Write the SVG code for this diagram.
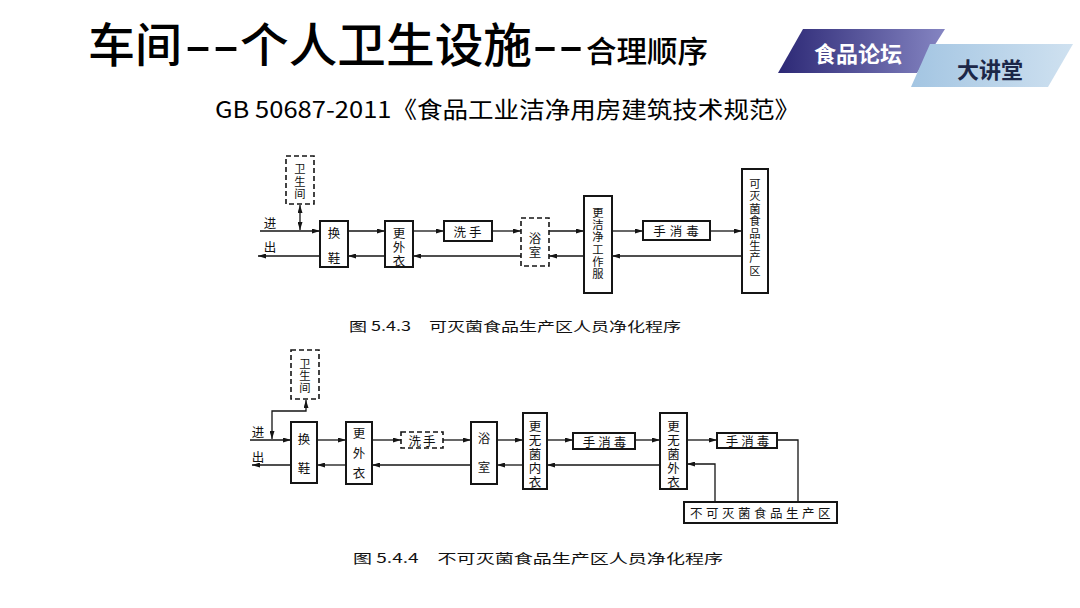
<svg xmlns="http://www.w3.org/2000/svg" width="1080" height="608" viewBox="0 0 1080 608">
<defs>
<linearGradient id="gDark" x1="0" y1="0" x2="1" y2="0">
<stop offset="0" stop-color="#2c2875"/>
<stop offset="1" stop-color="#8585c2"/>
</linearGradient>
<linearGradient id="gLight" x1="0" y1="0" x2="1" y2="0">
<stop offset="0" stop-color="#a3c5e2"/>
<stop offset="1" stop-color="#cfe1f0"/>
</linearGradient>
<marker id="ah" viewBox="0 0 8 5" refX="8" refY="2.5" markerWidth="8" markerHeight="5" markerUnits="userSpaceOnUse" orient="auto-start-reverse">
<path d="M0,0 L8,2.5 L0,5 z" fill="#151515"/>
</marker>
<style>
.box{fill:#fff;stroke:#151515;stroke-width:2}
.dbox{fill:#fff;stroke:#151515;stroke-width:1.6;stroke-dasharray:5 3}
.ln{fill:none;stroke:#151515;stroke-width:1.3}
.ar{marker-end:url(#ah)}
.ar2{marker-start:url(#ah);marker-end:url(#ah)}
.t{font-family:"Noto Sans CJK SC","Noto Sans",sans-serif;font-size:12.5px;fill:#111;text-anchor:middle;dominant-baseline:central}
.s{font-size:11.3px}
.cap{font-family:"Noto Sans CJK SC","Noto Sans",sans-serif;font-size:13px;fill:#111;dominant-baseline:central}
.title{font-family:"Noto Sans CJK SC","Noto Sans",sans-serif;fill:#000;font-weight:500}
.sub{font-family:"Noto Sans CJK SC","Noto Sans",sans-serif;fill:#000;font-weight:400}
</style>
</defs>
<rect width="1080" height="608" fill="#fff"/>

<g id="header">
<text class="title" x="88" y="62" font-size="47">车间</text>
<text class="title" x="184" y="62" font-size="47" textLength="56" lengthAdjust="spacingAndGlyphs">--</text>
<text class="title" x="240" y="62" font-size="47" textLength="292" lengthAdjust="spacingAndGlyphs">个人卫生设施</text>
<text class="title" x="532" y="62" font-size="47" textLength="52" lengthAdjust="spacingAndGlyphs">--</text>
<text class="title" x="586" y="62" font-size="30" textLength="122" lengthAdjust="spacingAndGlyphs">合理顺序</text>
<text class="sub" x="215" y="118" font-size="23" textLength="585" lengthAdjust="spacingAndGlyphs">GB 50687-2011《食品工业洁净用房建筑技术规范》</text>
</g>

<g id="badge">
<polygon points="803,29 945,29 917,73 778,73" fill="url(#gDark)"/>
<polygon points="930,44 1073,44 1048,87 911,87" fill="url(#gLight)"/>
<text x="858" y="52" font-family="'Noto Sans CJK SC',sans-serif" font-size="22" font-weight="700" fill="#fff" text-anchor="middle" dominant-baseline="central">食品论坛</text>
<text x="990" y="68" font-family="'Noto Sans CJK SC',sans-serif" font-size="22" font-weight="700" fill="#1c2748" text-anchor="middle" dominant-baseline="central">大讲堂</text>
</g>

<!-- Diagram 5.4.3 -->
<g id="d1-connectors">
<path class="ln ar" d="M260,231 H320"/>
<path class="ln ar" d="M348,231 H385"/>
<path class="ln ar" d="M413,231 H444"/>
<path class="ln ar" d="M492,231 H521"/>
<path class="ln ar" d="M549,231 H584"/>
<path class="ln ar" d="M612,231 H643"/>
<path class="ln ar" d="M710,231 H742"/>
<path class="ln ar" d="M742,256 H612"/>
<path class="ln ar" d="M584,256 H549"/>
<path class="ln ar" d="M521,256 H413"/>
<path class="ln ar" d="M385,256 H348"/>
<path class="ln ar" d="M320,256 H258"/>
<path class="ln ar2" d="M300,205 V230"/>
</g>
<text class="t" x="270" y="222" font-size="13">进</text>
<text class="t" x="270" y="246" font-size="13">出</text>
<g id="d1-wc">
<rect class="dbox" x="286" y="156" width="28" height="48"/>
<text class="t s" x="300" y="168">卫</text><text class="t s" x="300" y="180.5">生</text><text class="t s" x="300" y="193">间</text>
</g>
<g id="d1-shoe">
<rect class="box" x="320" y="221" width="28" height="46"/>
<text class="t" x="334" y="232">换</text><text class="t" x="334" y="257">鞋</text>
</g>
<g id="d1-coat">
<rect class="box" x="385" y="221" width="28" height="46"/>
<text class="t" x="399" y="232">更</text><text class="t" x="399" y="246">外</text><text class="t" x="399" y="260">衣</text>
</g>
<g id="d1-wash">
<rect class="box" x="444" y="221" width="48" height="20"/>
<text class="t" x="469" y="231" letter-spacing="3">洗手</text>
</g>
<g id="d1-bath">
<rect class="dbox" x="521" y="218" width="28" height="48"/>
<text class="t" x="535" y="237">浴</text><text class="t" x="535" y="251">室</text>
</g>
<g id="d1-clean">
<rect class="box" x="584" y="196" width="28" height="97"/>
<text class="t s" x="598" y="212">更</text><text class="t s" x="598" y="224.2">洁</text><text class="t s" x="598" y="236.4">净</text><text class="t s" x="598" y="248.6">工</text><text class="t s" x="598" y="260.8">作</text><text class="t s" x="598" y="273">服</text>
</g>
<g id="d1-dis">
<rect class="box" x="643" y="221" width="67" height="19"/>
<text class="t" x="678" y="230.5" letter-spacing="4">手消毒</text>
</g>
<g id="d1-zone">
<rect class="box" x="742" y="169" width="26" height="124"/>
<text class="t s" x="755" y="183">可</text><text class="t s" x="755" y="195.4">灭</text><text class="t s" x="755" y="207.8">菌</text><text class="t s" x="755" y="220.2">食</text><text class="t s" x="755" y="232.6">品</text><text class="t s" x="755" y="245">生</text><text class="t s" x="755" y="257.4">产</text><text class="t s" x="755" y="270">区</text>
</g>
<text class="cap" x="349" y="325" textLength="332" lengthAdjust="spacingAndGlyphs">图 5.4.3　可灭菌食品生产区人员净化程序</text>

<!-- Diagram 5.4.4 -->
<g id="d2-connectors">
<path class="ln ar" d="M250,440 H291"/>
<path class="ln ar" d="M317,440 H346"/>
<path class="ln ar" d="M372,440 H401"/>
<path class="ln ar" d="M443,440 H471"/>
<path class="ln ar" d="M497,440 H523"/>
<path class="ln ar" d="M547,440 H573"/>
<path class="ln ar" d="M635,440 H660"/>
<path class="ln ar" d="M687,440 H717"/>
<path class="ln" d="M777,440 H798 V502"/>
<path class="ln ar" d="M715,502 V464 H687"/>
<path class="ln ar" d="M660,465 H547"/>
<path class="ln ar" d="M523,465 H497"/>
<path class="ln ar" d="M471,465 H372"/>
<path class="ln ar" d="M346,465 H317"/>
<path class="ln ar" d="M291,465 H252"/>
<path class="ln ar2" d="M272,439 V411 H306 V400"/>
</g>
<text class="t" x="258" y="431" font-size="13">进</text>
<text class="t" x="258" y="456" font-size="13">出</text>
<g id="d2-wc">
<rect class="dbox" x="291" y="350" width="28" height="49"/>
<text class="t s" x="305" y="363">卫</text><text class="t s" x="305" y="375">生</text><text class="t s" x="305" y="387">间</text>
</g>
<g id="d2-shoe">
<rect class="box" x="291" y="422" width="26" height="61"/>
<text class="t" x="304" y="438">换</text><text class="t" x="304" y="467">鞋</text>
</g>
<g id="d2-coat">
<rect class="box" x="346" y="422" width="26" height="62"/>
<text class="t" x="359" y="432">更</text><text class="t" x="359" y="452">外</text><text class="t" x="359" y="472">衣</text>
</g>
<g id="d2-wash">
<rect class="dbox" x="401" y="432" width="42" height="16"/>
<text class="t" x="423" y="440" letter-spacing="2">洗手</text>
</g>
<g id="d2-bath">
<rect class="box" x="471" y="422" width="26" height="62"/>
<text class="t" x="484" y="437">浴</text><text class="t" x="484" y="466">室</text>
</g>
<g id="d2-inner">
<rect class="box" x="523" y="413" width="24" height="76"/>
<text class="t" x="535" y="425">更</text><text class="t" x="535" y="439">无</text><text class="t" x="535" y="453">菌</text><text class="t" x="535" y="467">内</text><text class="t" x="535" y="481">衣</text>
</g>
<g id="d2-dis1">
<rect class="box" x="573" y="433" width="62" height="16"/>
<text class="t" x="606" y="441" letter-spacing="3">手消毒</text>
</g>
<g id="d2-outer">
<rect class="box" x="660" y="413" width="27" height="76"/>
<text class="t" x="673.5" y="425">更</text><text class="t" x="673.5" y="439">无</text><text class="t" x="673.5" y="453">菌</text><text class="t" x="673.5" y="467">外</text><text class="t" x="673.5" y="481">衣</text>
</g>
<g id="d2-dis2">
<rect class="box" x="717" y="433" width="60" height="15"/>
<text class="t" x="749" y="440.5" letter-spacing="3">手消毒</text>
</g>
<g id="d2-zone">
<rect class="box" x="684" y="502" width="153" height="21"/>
<text class="t" x="762" y="512.5" letter-spacing="3.5">不可灭菌食品生产区</text>
</g>
<text class="cap" x="353" y="557" textLength="370" lengthAdjust="spacingAndGlyphs">图 5.4.4　不可灭菌食品生产区人员净化程序</text>
</svg>
